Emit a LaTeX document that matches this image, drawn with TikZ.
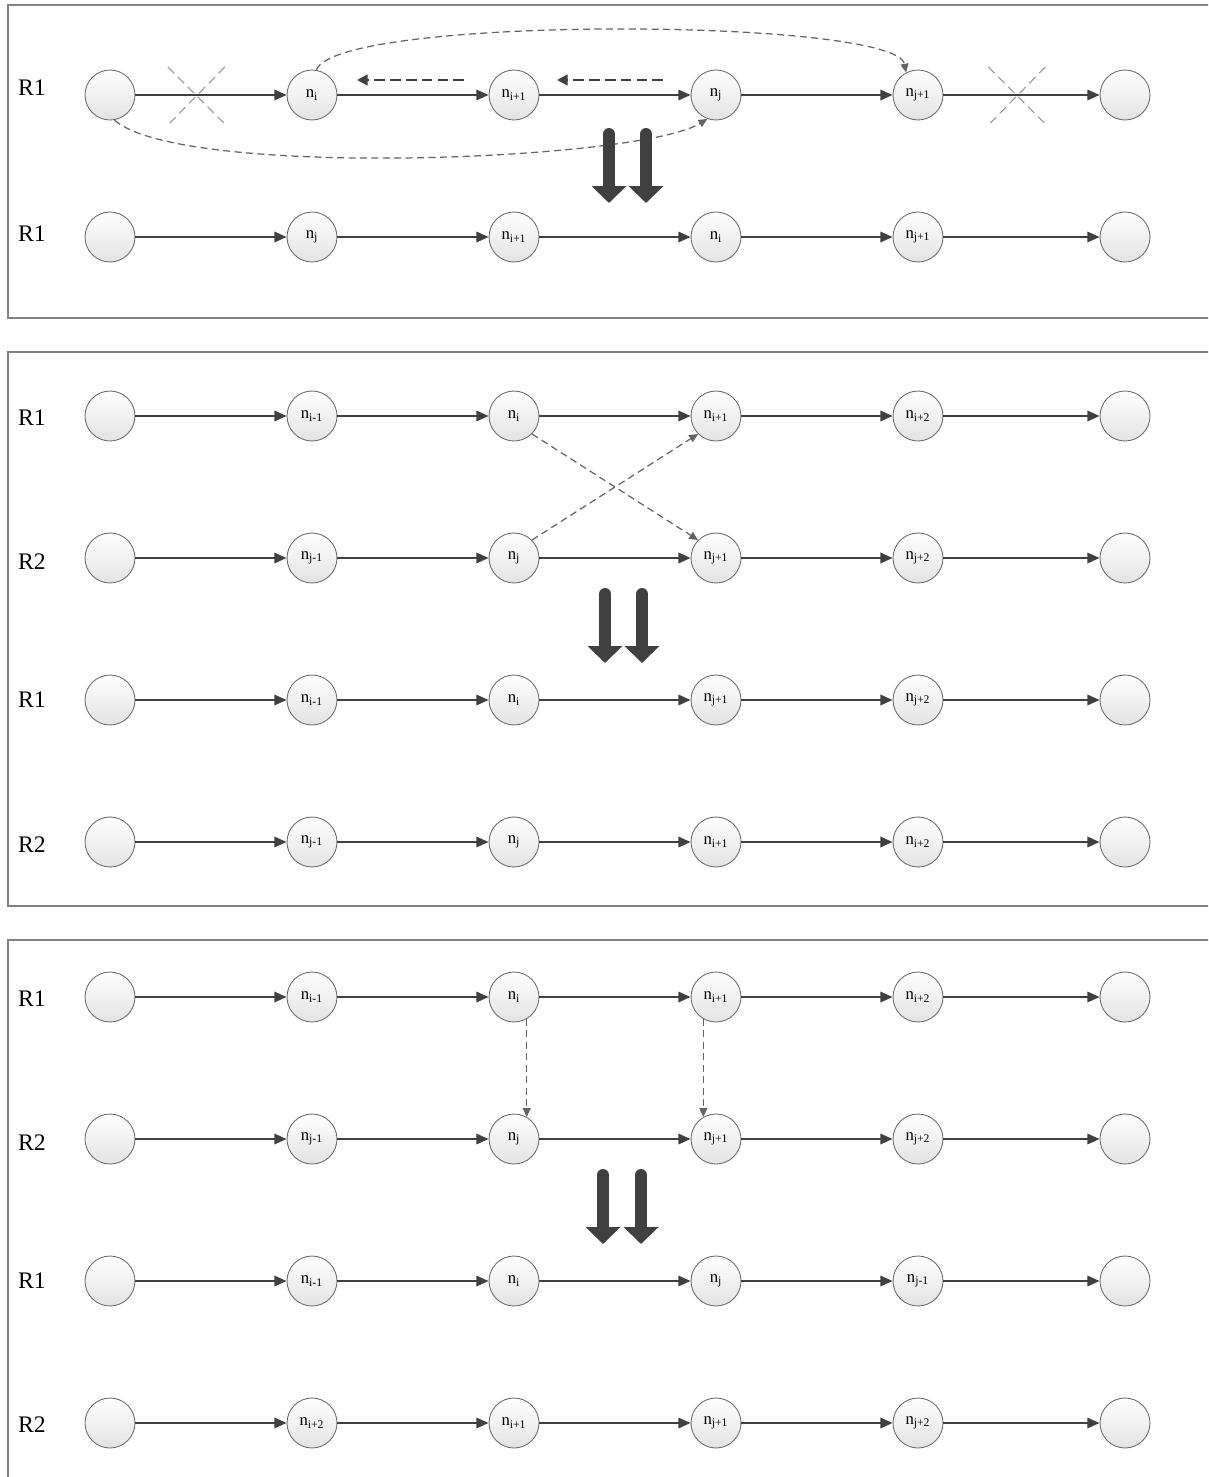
\documentclass[tikz,border=0pt]{standalone}
\usepackage{fontspec}
\setmainfont{Liberation Serif}
\usetikzlibrary{arrows.meta, positioning, calc}
\definecolor{linkgray}{RGB}{64,64,64}
\definecolor{dashgray}{RGB}{100,100,100}
\definecolor{crossgray}{RGB}{150,150,150}
\definecolor{framegray}{RGB}{130,130,130}

\begin{document}
\begin{tikzpicture}[x=0.02cm, y=-0.02cm,
	nd/.style={circle, draw=gray!85!black, line width=0.5pt, minimum size=1cm, inner sep=0pt,
		top color=white, bottom color=gray!22, font=\fontsize{9.5}{10}\selectfont},
	link/.style={draw=linkgray, line width=1.1pt, -{Triangle[length=7pt,width=6pt]}},
	swap/.style={draw=dashgray, line width=0.7pt, dash pattern=on 4pt off 2.5pt, -{Triangle[length=5pt,width=4.5pt]}},
	moveback/.style={draw=linkgray, line width=1.6pt, dash pattern=on 6pt off 3pt, -{Triangle[length=6pt,width=6pt]}},
	cut/.style={draw=crossgray, line width=0.6pt, dash pattern=on 5pt off 3pt},
	bigdown/.style={draw=linkgray, line width=0.24cm, line cap=round, -{Triangle[length=0.34cm,width=0.68cm]}},
	panel/.style={draw=framegray, line width=0.6pt},
	rowlab/.style={font=\fontsize{13.5}{15}\selectfont}]
	
	\useasboundingbox (0,0) rectangle (1208,1477);
	\clip (0,0) rectangle (1208,1477);
	
	% frames
	\draw[panel] (8,5) rectangle (1230,318);
	\draw[panel] (8,352) rectangle (1230,906);
	\draw[panel] (8,940) rectangle (1230,1500);
	
	% rows of nodes
	\foreach \rn/\y/\dy/\rlab/\labs in {a/95/-7/R1/{i,i+1,j,j+1}, b/237/-3/R1/{j,i+1,i,j+1},
		c/416/2/R1/{i-1,i,i+1,i+2}, d/558/4/R2/{j-1,j,j+1,j+2},
		e/700/0/R1/{i-1,i,j+1,j+2}, f/842/3/R2/{j-1,j,i+1,i+2},
		g/997/2/R1/{i-1,i,i+1,i+2}, h/1139/4/R2/{j-1,j,j+1,j+2},
		i/1281/0/R1/{i-1,i,j,j-1}, j/1423/2/R2/{i+2,i+1,j+1,j+2}} {
		\node[rowlab] (lab\rn) at (32,\y+\dy) {\rlab};
		\node[nd] (r\rn-1) at (110,\y) {};
		\foreach \lab [count=\k from 2] in \labs
			\node[nd] (r\rn-\k) at ({110+202*(\k-1)},\y) {n\textsubscript{\lab}};
		\node[nd] (r\rn-6) at (1125,\y) {};
		\foreach \k in {1,...,5} {
			\pgfmathtruncatemacro\kk{\k+1}
			\draw[link] (r\rn-\k) -- (r\rn-\kk);
		}
	}
	
	% panel 1: broken links and moves
	\coordinate (cuta) at ($(ra-1)!0.43!(ra-2)$);
	\coordinate (cutb) at ($(ra-5)!0.48!(ra-6)$);
	\foreach \c in {cuta,cutb} {
		\draw[cut] ($(\c)+(-29,-28)$) -- ($(\c)+(29,30)$);
		\draw[cut] ($(\c)+(28,-28)$) -- ($(\c)+(-27,28)$);
	}
	\draw[swap] (ra-2.80) .. controls +(20,-55) and +(-10,-55) .. (ra-5.118);
	\draw[swap] (ra-1.-80) .. controls +(66,59) and +(-68,42) .. (ra-4.-110);
	\coordinate (mba) at ($(ra-3)+(-50,-15)$);
	\coordinate (mbb) at ($(ra-2)+(45,-15)$);
	\coordinate (mbc) at ($(ra-4)+(-53,-15)$);
	\coordinate (mbd) at ($(ra-3)+(43,-15)$);
	\draw[moveback] (mba) -- (mbb);
	\draw[moveback] (mbc) -- (mbd);
	
	% panel 2: crossing links
	\draw[swap] (rc-3.south east) -- (rd-4.north west);
	\draw[swap] (rd-3.north east) -- (rc-4.south west);
	
	% panel 3: exchanged links
	\draw[swap] (rg-3.-60) -- (rh-3.60);
	\draw[swap] (rg-4.-120) -- (rh-4.120);
	
	% big arrows
	\draw[bigdown] (609,134) -- (609,203);
	\draw[bigdown] (646,134) -- (646,203);
	\draw[bigdown] (605,594) -- (605,663);
	\draw[bigdown] (642,594) -- (642,663);
	\draw[bigdown] (603,1175) -- (603,1244);
	\draw[bigdown] (641,1175) -- (641,1244);
\end{tikzpicture}
\end{document}
